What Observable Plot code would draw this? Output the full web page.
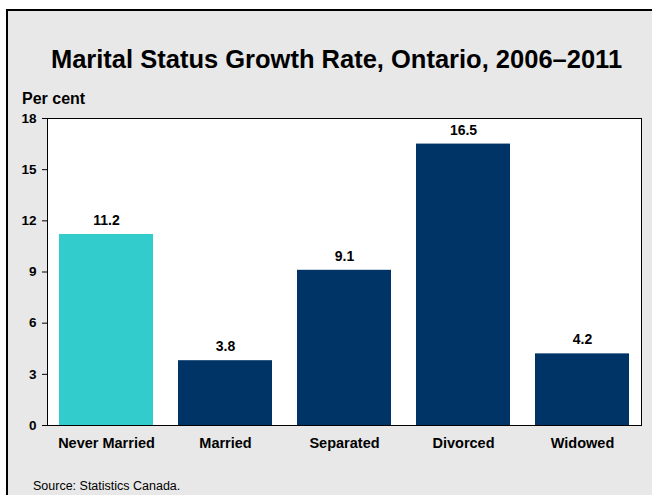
<!DOCTYPE html>
<html>
<head>
<meta charset="utf-8">
<script src="https://cdn.jsdelivr.net/npm/d3@7"></script>
<script src="https://cdn.jsdelivr.net/npm/@observablehq/plot@0.6"></script>
<style>
  html, body { margin: 0; padding: 0; background: #ffffff; width: 652px; height: 495px; overflow: hidden; }
  body { font-family: "Liberation Sans", Arial, sans-serif; position: relative; }
  #box { position: absolute; left: 6px; top: 9px; width: 700px; height: 540px; background: #e8e8e8; border: 2px solid #000; box-sizing: border-box; }
  #title { position: absolute; left: 0; width: 673px; top: 45px; text-align: center; font-weight: bold; font-size: 25.5px; color: #000; white-space: nowrap; }
  #ylabel { position: absolute; left: 22px; top: 90px; font-weight: bold; font-size: 16px; color: #000; }
  #chart { position: absolute; left: 0; top: 105px; }
  #source { position: absolute; left: 33px; top: 479px; font-size: 12.5px; color: #000; }
</style>
</head>
<body>
<div id="box"></div>
<div id="title">Marital Status Growth Rate, Ontario, 2006–2011</div>
<div id="ylabel">Per cent</div>
<div id="chart"></div>
<div id="source">Source: Statistics Canada.</div>
<script>
const categories = ["Never Married", "Married", "Separated", "Divorced", "Widowed"];
const values = [11.2, 3.8, 9.1, 16.5, 4.2];
const barColors = ["#33cccc", "#003366", "#003366", "#003366", "#003366"];
const yTicks = [0, 3, 6, 9, 12, 15, 18];

const data = categories.map((c, i) => ({category: c, value: values[i], color: barColors[i]}));

const plot = Plot.plot({
  width: 652,
  height: 360,
  marginLeft: 47,
  marginRight: 11,
  marginTop: 13,
  marginBottom: 40,
  style: {fontFamily: "'Liberation Sans', Arial, sans-serif", fontSize: "13px", fontWeight: "bold", color: "#000", background: "transparent"},
  x: {domain: categories, paddingInner: 0.213, paddingOuter: 0.092, label: null},
  y: {domain: [0, 18], ticks: yTicks, label: null},
  marks: [
    Plot.frame({fill: "white", stroke: null}),
    Plot.barY(data, {x: "category", y: "value", fill: "color"}),
    Plot.text(data, {x: "category", y: "value", text: d => d.value.toFixed(1), dy: -14, fontWeight: "bold", fontSize: 14, fill: "#000"}),
    Plot.frame({stroke: "#000", strokeWidth: 1}),
    Plot.axisY({ticks: yTicks, tickSize: 5, tickPadding: 6, stroke: "#000", strokeOpacity: 1, fontWeight: "bold", fontSize: 13.5, label: null}),
    Plot.axisX({tickSize: 0, tickPadding: 12, fontWeight: "bold", fontSize: 14.5, label: null})
  ]
});
document.getElementById("chart").appendChild(plot);
</script>
</body>
</html>
